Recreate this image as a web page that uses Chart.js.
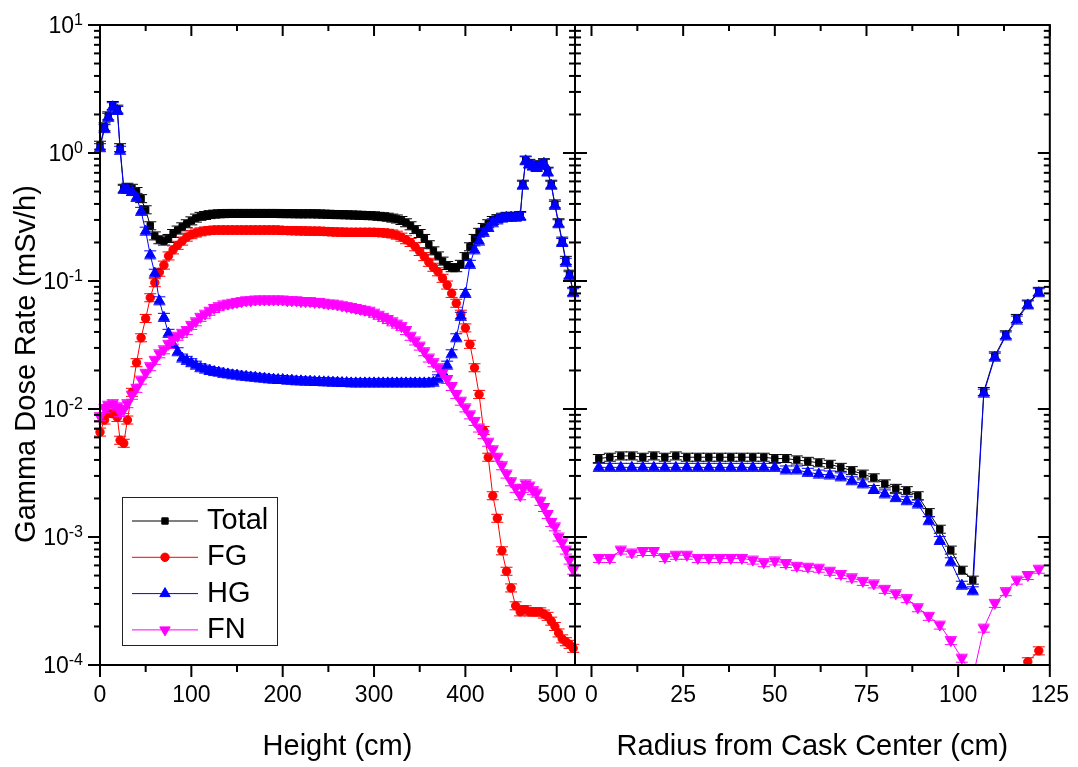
<!DOCTYPE html>
<html>
<head>
<meta charset="utf-8">
<script src="https://cdn.jsdelivr.net/npm/chart.js@4.4.1/dist/chart.umd.min.js"></script>
<style>
html, body { margin: 0; padding: 0; background: #fff; }
#wrap { position: relative; width: 1078px; height: 767px; }
#wrap canvas { position: absolute; left: 0; top: 0; }
</style>
</head>
<body>
<div id="wrap">
  <canvas id="heightCanvas" width="1078" height="767"></canvas>
  <canvas id="radiusCanvas" width="1078" height="767"></canvas>
</div>
<script>
// ---- data ----
const heights = [0, 5, 9, 14, 19, 22, 26,
  30, 35, 40, 45, 50, 55, 60, 65, 70, 75, 80, 85, 90, 95,
  100, 105, 110, 115, 120, 125, 130, 135, 140, 145, 150, 155, 160, 165, 170, 175, 180, 185, 190, 195,
  200, 205, 210, 215, 220, 225, 230, 235, 240, 245, 250, 255, 260, 265, 270, 275, 280, 285, 290, 295,
  300, 305, 310, 315, 320, 325, 330, 335, 340, 345, 350, 355, 360, 365, 370, 375, 380, 385, 390, 395,
  400, 405, 410, 415, 420, 425, 430, 435, 440, 445, 450, 455,
  460, 463, 466, 470, 474, 478, 482, 486, 490, 494, 498, 502, 506, 510, 514, 518];

const totalHeight = [1.15, 1.6, 1.95, 2.35, 2.2, 1.1, 0.53,
  0.54, 0.53, 0.5, 0.44, 0.36, 0.27, 0.225, 0.21, 0.205, 0.215, 0.235, 0.25, 0.265, 0.28,
  0.295, 0.31, 0.32, 0.325, 0.33, 0.333, 0.335, 0.336, 0.337, 0.337, 0.337, 0.337, 0.337, 0.337, 0.337, 0.337, 0.337, 0.337, 0.337, 0.337,
  0.336, 0.336, 0.336, 0.335, 0.335, 0.335, 0.335, 0.335, 0.334, 0.333, 0.332, 0.331, 0.33, 0.33, 0.329, 0.328, 0.327, 0.326, 0.325, 0.324,
  0.323, 0.32, 0.318, 0.315, 0.31, 0.305, 0.297, 0.285, 0.27, 0.252, 0.235, 0.215, 0.192, 0.172, 0.157, 0.143, 0.132, 0.127, 0.127, 0.135,
  0.155, 0.185, 0.215, 0.24, 0.262, 0.28, 0.297, 0.307, 0.315, 0.32, 0.32, 0.32,
  0.325, 0.57, 0.88, 0.83, 0.8, 0.78, 0.81, 0.84, 0.72, 0.57, 0.4, 0.285, 0.205, 0.145, 0.113, 0.083];

const fgHeight = [0.0066, 0.0082, 0.0093, 0.0092, 0.0086, 0.0057, 0.0054,
  0.0082, 0.0135, 0.023, 0.036, 0.051, 0.074, 0.097, 0.117, 0.133, 0.157, 0.175, 0.19, 0.205, 0.22,
  0.23, 0.237, 0.242, 0.246, 0.248, 0.25, 0.25, 0.25, 0.25, 0.25, 0.25, 0.25, 0.25, 0.25, 0.25, 0.25, 0.25, 0.25, 0.25, 0.25,
  0.248, 0.248, 0.247, 0.247, 0.246, 0.246, 0.245, 0.245, 0.245, 0.244, 0.243, 0.242, 0.241, 0.241, 0.24, 0.24, 0.24, 0.24, 0.24, 0.24,
  0.24, 0.239, 0.238, 0.236, 0.233, 0.228, 0.22, 0.21, 0.2, 0.185, 0.17, 0.155, 0.14, 0.128, 0.118, 0.105, 0.093, 0.08, 0.067, 0.055,
  0.043, 0.032, 0.021, 0.013, 0.0068, 0.0042, 0.0021, 0.0014, 0.00078, 0.00054, 0.0004, 0.00029,
  0.00026, 0.00027, 0.00027, 0.00026, 0.00026, 0.00026, 0.00026, 0.00025, 0.00024, 0.00022, 0.0002, 0.000178, 0.00016, 0.000152, 0.000145, 0.000135];

const hgHeight = [1.1, 1.55, 1.9, 2.3, 2.15, 1.05, 0.52,
  0.52, 0.5, 0.45, 0.35, 0.245, 0.16, 0.115, 0.07, 0.052, 0.039, 0.032, 0.028, 0.025, 0.024,
  0.023, 0.022, 0.021, 0.0205, 0.02, 0.0196, 0.0194, 0.019, 0.0188, 0.0185, 0.0184, 0.0181, 0.018, 0.0178, 0.0177, 0.0175, 0.0174, 0.0172, 0.0171, 0.017,
  0.017, 0.0168, 0.0168, 0.0166, 0.0166, 0.0165, 0.0165, 0.0164, 0.0164, 0.0163, 0.0163, 0.0162, 0.0162, 0.0161, 0.0161, 0.016, 0.016, 0.016, 0.016, 0.016,
  0.016, 0.016, 0.016, 0.016, 0.016, 0.016, 0.016, 0.016, 0.016, 0.016, 0.016, 0.016, 0.016, 0.0162, 0.0172, 0.0195, 0.022, 0.027, 0.036, 0.053,
  0.08, 0.135, 0.175, 0.205, 0.24, 0.262, 0.285, 0.3, 0.31, 0.315, 0.315, 0.315,
  0.32, 0.56, 0.87, 0.82, 0.79, 0.77, 0.8, 0.83, 0.71, 0.56, 0.39, 0.28, 0.2, 0.14, 0.11, 0.081];

const fnHeight = [0.0087, 0.0101, 0.0107, 0.011, 0.0104, 0.0094, 0.0099,
  0.011, 0.0128, 0.0145, 0.0168, 0.019, 0.0214, 0.024, 0.027, 0.029, 0.032, 0.0345, 0.037, 0.039, 0.041,
  0.045, 0.048, 0.052, 0.055, 0.058, 0.061, 0.063, 0.065, 0.066, 0.067, 0.068, 0.069, 0.07, 0.07, 0.071, 0.071, 0.071, 0.071, 0.071, 0.071,
  0.071, 0.07, 0.07, 0.07, 0.069, 0.069, 0.069, 0.068, 0.068, 0.067, 0.066, 0.066, 0.065, 0.064, 0.063, 0.062, 0.061, 0.06, 0.059, 0.058,
  0.056, 0.054, 0.052, 0.05, 0.048, 0.046, 0.044, 0.041, 0.037, 0.034, 0.031, 0.028, 0.025, 0.023, 0.021, 0.019, 0.017, 0.015, 0.013, 0.0115,
  0.0102, 0.009, 0.008, 0.0071, 0.0063, 0.0055, 0.0048, 0.0042, 0.0036, 0.0031, 0.0027, 0.0024,
  0.0021, 0.0024, 0.0026, 0.0025, 0.0023, 0.0022, 0.0019, 0.0017, 0.0015, 0.0013, 0.0012, 0.001, 0.0009, 0.00079, 0.00066, 0.00055];

const radii = [2, 5, 8, 11, 14, 17, 20, 23, 26, 29, 32, 35, 38, 41, 44, 47, 50, 53, 56, 59,
  62, 65, 68, 71, 74, 77, 80, 83, 86, 89, 92, 95, 98, 101, 104, 107, 110, 113, 116, 119, 122];

const totalRadius = [0.0041, 0.0042, 0.0043, 0.0043, 0.0042, 0.0043, 0.0042, 0.0043, 0.0042, 0.0042,
  0.0042, 0.0042, 0.0042, 0.0042, 0.0042, 0.0042, 0.0041, 0.0041, 0.004, 0.0039,
  0.0038, 0.0037, 0.0035, 0.0033, 0.0031, 0.0029, 0.0026, 0.0024, 0.0023, 0.0021,
  0.00155, 0.00115, 0.00079, 0.00055, 0.00046, 0.0137, 0.026, 0.038, 0.051, 0.066, 0.083];

const fgRadius = [null, null, null, null, null, null, null, null, null, null,
  null, null, null, null, null, null, null, null, null, null,
  null, null, null, null, null, null, null, null, null, null,
  null, null, null, null, null, null, null, null, null, 0.000106, 0.000129];

const hgRadius = [0.0035, 0.0035, 0.0035, 0.0035, 0.0035, 0.0035, 0.0035, 0.0035, 0.0035, 0.0035,
  0.0035, 0.0035, 0.0035, 0.0035, 0.0035, 0.0035, 0.0035, 0.00334, 0.00334, 0.0032,
  0.0031, 0.00305, 0.00295, 0.00275, 0.0026, 0.00235, 0.00217, 0.00203, 0.00192, 0.00181,
  0.00134, 0.00094, 0.00064, 0.00042, 0.00038, 0.0133, 0.0254, 0.0372, 0.0495, 0.065, 0.081];

const fnRadius = [0.00068, 0.00068, 0.00079, 0.00075, 0.00077, 0.00077, 0.00069, 0.00072, 0.00072, 0.00068,
  0.00068, 0.00068, 0.00068, 0.00068, 0.00066, 0.00063, 0.00065, 0.00062, 0.00059, 0.00058,
  0.00057, 0.00054, 0.00051, 0.00048, 0.00045, 0.00043, 0.00039, 0.00036, 0.00033, 0.00028,
  0.00024, 0.000205, 0.000155, 0.000113, 0.00008, 0.000194, 0.000303, 0.000374, 0.00046, 0.0005, 0.00056];

const seriesNames = ["Total", "FG", "HG", "FN"];
const heightTicks = [0, 100, 200, 300, 400, 500];
const radiusTicks = [0, 25, 50, 75, 100, 125];
const yTickExponents = [1, 0, -1, -2, -3, -4];

// ---- styles ----
const FONT = '"Liberation Sans", Arial, sans-serif';
Chart.defaults.font.family = FONT;
Chart.defaults.color = "#000";

const styles = [
    { color: "#000000", pointStyle: "rect", radius: 4.5, rotation: 0 },
    { color: "#ff0000", pointStyle: "circle", radius: 4.2, rotation: 0 },
    { color: "#0000ff", pointStyle: "triangle", radius: 6, rotation: 0 },
    { color: "#ff00ff", pointStyle: "triangle", radius: 6, rotation: 180 },
];

function makeDatasets(xs, series) {
    return series.map((vals, i) => ({
        label: seriesNames[i],
        data: xs.map((x, j) => ({ x: x, y: vals[j] })),
        borderColor: styles[i].color,
        backgroundColor: styles[i].color,
        borderWidth: 1,
        pointStyle: styles[i].pointStyle,
        pointRadius: styles[i].radius,
        pointHoverRadius: styles[i].radius,
        pointRotation: styles[i].rotation,
        pointBorderWidth: 1,
        tension: 0,
        spanGaps: false,
        order: 4 - i,
        clip: { left: 8, right: 8, top: 2, bottom: 0 },
    }));
}

function line(ctx, x1, y1, x2, y2) {
    ctx.beginPath();
    ctx.moveTo(x1, y1);
    ctx.lineTo(x2, y2);
    ctx.stroke();
}

function yTickMarks(ctx, yScale, x, outMajor, inMajor, outMinor, inMinor) {
    yTickExponents.forEach((e) => {
        const base = Math.pow(10, e);
        const py = yScale.getPixelForValue(base);
        line(ctx, x - outMajor, py, x + inMajor, py);
        if (e < yTickExponents[0]) {
            for (let m = 2; m <= 9; m++) {
                const pm = yScale.getPixelForValue(m * base);
                line(ctx, x - outMinor, pm, x + inMinor, pm);
            }
        }
    });
}

function xTickMarks(ctx, xScale, y, majors, upMajor, downMajor, upMinor, downMinor) {
    majors.forEach((v, i) => {
        const px = xScale.getPixelForValue(v);
        line(ctx, px, y - upMajor, px, y + downMajor);
        if (i < majors.length - 1) {
            const pm = xScale.getPixelForValue((v + majors[i + 1]) / 2);
            line(ctx, pm, y - upMinor, pm, y + downMinor);
        }
    });
}

// small horizontal caps above and below every point, like the error bars of the original
const errorCaps = {
    id: "errorCaps",
    afterDatasetDraw(chart, args) {
        const ctx = chart.ctx;
        const a = chart.chartArea;
        const ds = chart.data.datasets[args.index];
        ctx.save();
        ctx.beginPath();
        ctx.rect(a.left - 8, a.top, a.right - a.left + 16, a.bottom - a.top);
        ctx.clip();
        ctx.strokeStyle = ds.borderColor;
        ctx.lineWidth = 1;
        args.meta.data.forEach((pt, j) => {
            if (ds.data[j].y == null) return;
            const x = pt.x, y = pt.y;
            ctx.beginPath();
            ctx.moveTo(x - 6, y - 4); ctx.lineTo(x + 6, y - 4);
            ctx.moveTo(x - 6, y + 4); ctx.lineTo(x + 6, y + 4);
            ctx.moveTo(x, y - 4); ctx.lineTo(x, y + 4);
            ctx.stroke();
        });
        ctx.restore();
    },
};

const heightFrame = {
    id: "heightFrame",
    afterDraw(chart) {
        const ctx = chart.ctx;
        const a = chart.chartArea;
        const x = chart.scales.x, y = chart.scales.y;
        ctx.save();
        ctx.strokeStyle = "#000";
        ctx.lineWidth = 2;
        line(ctx, a.left, a.top - 1, a.left, a.bottom + 1);
        line(ctx, a.left, a.top, a.right, a.top);
        line(ctx, a.left, a.bottom, a.right, a.bottom);
        yTickMarks(ctx, y, a.left, 12, 0, 6, 0);
        xTickMarks(ctx, x, a.top, heightTicks, 0, 11, 0, 6);
        xTickMarks(ctx, x, a.bottom, heightTicks, 0, 12, 0, 7);

        // y tick labels 10^n
        ctx.fillStyle = "#000";
        yTickExponents.forEach((e) => {
            const py = y.getPixelForValue(Math.pow(10, e));
            const exp = String(e);
            ctx.font = "16px " + FONT;
            const ew = ctx.measureText(exp).width;
            const right = a.left - 17;
            ctx.textBaseline = "alphabetic";
            ctx.textAlign = "left";
            ctx.fillText(exp, right - ew, py);
            ctx.font = "23px " + FONT;
            ctx.textAlign = "right";
            ctx.fillText("10", right - ew, py + 8);
        });

        // y title
        ctx.save();
        ctx.translate(35, 364);
        ctx.rotate(-Math.PI / 2);
        ctx.font = "29px " + FONT;
        ctx.textAlign = "center";
        ctx.textBaseline = "alphabetic";
        ctx.fillText("Gamma Dose Rate (mSv/h)", 0, 0);
        ctx.restore();

        // legend
        ctx.lineWidth = 1;
        ctx.strokeStyle = "#222";
        ctx.strokeRect(122.5, 497.5, 155, 148);
        seriesNames.forEach((name, i) => {
            const ry = 521 + i * 36.3;
            const st = styles[i];
            ctx.strokeStyle = st.color;
            ctx.fillStyle = st.color;
            ctx.lineWidth = 1;
            line(ctx, 132, ry, 198, ry);
            Chart.helpers.drawPoint(ctx, {
                pointStyle: st.pointStyle,
                radius: st.radius,
                rotation: st.rotation,
                borderWidth: 1,
            }, 165, ry);
            ctx.fillStyle = "#000";
            ctx.font = "29px " + FONT;
            ctx.textAlign = "left";
            ctx.textBaseline = "middle";
            ctx.fillText(name, 207, ry);
        });
        ctx.restore();
    },
};

const radiusFrame = {
    id: "radiusFrame",
    afterDraw(chart) {
        const ctx = chart.ctx;
        const a = chart.chartArea;
        const x = chart.scales.x, y = chart.scales.y;
        ctx.save();
        ctx.strokeStyle = "#000";
        ctx.lineWidth = 2;
        line(ctx, a.left, a.top - 1, a.left, a.bottom + 1);
        line(ctx, a.right, a.top - 1, a.right, a.bottom + 1);
        line(ctx, a.left, a.top, a.right, a.top);
        line(ctx, a.left, a.bottom, a.right, a.bottom);
        yTickMarks(ctx, y, a.left, 12, 12, 6, 6);
        yTickMarks(ctx, y, a.right, 12, 0, 6, 0);
        xTickMarks(ctx, x, a.top, radiusTicks, 0, 11, 0, 6);
        xTickMarks(ctx, x, a.bottom, radiusTicks, 0, 12, 0, 7);
        ctx.restore();
    },
};

function xScale(min, max, ticks, title) {
    return {
        type: "linear",
        min: min,
        max: max,
        grid: { display: false },
        border: { display: false },
        ticks: {
            stepSize: ticks[1] - ticks[0],
            includeBounds: false,
            autoSkip: false,
            maxRotation: 0,
            padding: 9,
            color: "#000",
            font: { size: 23 },
        },
        afterBuildTicks: (s) => {
            s.ticks = ticks.map((v) => ({ value: v }));
        },
        afterFit: (s) => {
            s.height = 102;
        },
        title: {
            display: true,
            text: title,
            color: "#000",
            font: { size: 29 },
            padding: { top: 0, bottom: 3 },
        },
    };
}

const yScale = { type: "logarithmic", min: 1e-4, max: 10, display: false };

new Chart(document.getElementById("heightCanvas"), {
    type: "line",
    data: { datasets: makeDatasets(heights, [totalHeight, fgHeight, hgHeight, fnHeight]) },
    options: {
        responsive: false,
        animation: false,
        events: [],
        layout: { padding: { left: 100, right: 503, top: 25, bottom: 0 } },
        plugins: { legend: { display: false }, tooltip: { enabled: false } },
        scales: { x: xScale(0, 520, heightTicks, "Height (cm)"), y: yScale },
    },
    plugins: [errorCaps, heightFrame],
});

new Chart(document.getElementById("radiusCanvas"), {
    type: "line",
    data: { datasets: makeDatasets(radii, [totalRadius, fgRadius, hgRadius, fnRadius]) },
    options: {
        responsive: false,
        animation: false,
        events: [],
        layout: { padding: { left: 575, right: 28, top: 25, bottom: 0 } },
        plugins: { legend: { display: false }, tooltip: { enabled: false } },
        scales: { x: xScale(-4.5, 125, radiusTicks, "Radius from Cask Center (cm)"), y: yScale },
    },
    plugins: [errorCaps, radiusFrame],
});
</script>
</body>
</html>
